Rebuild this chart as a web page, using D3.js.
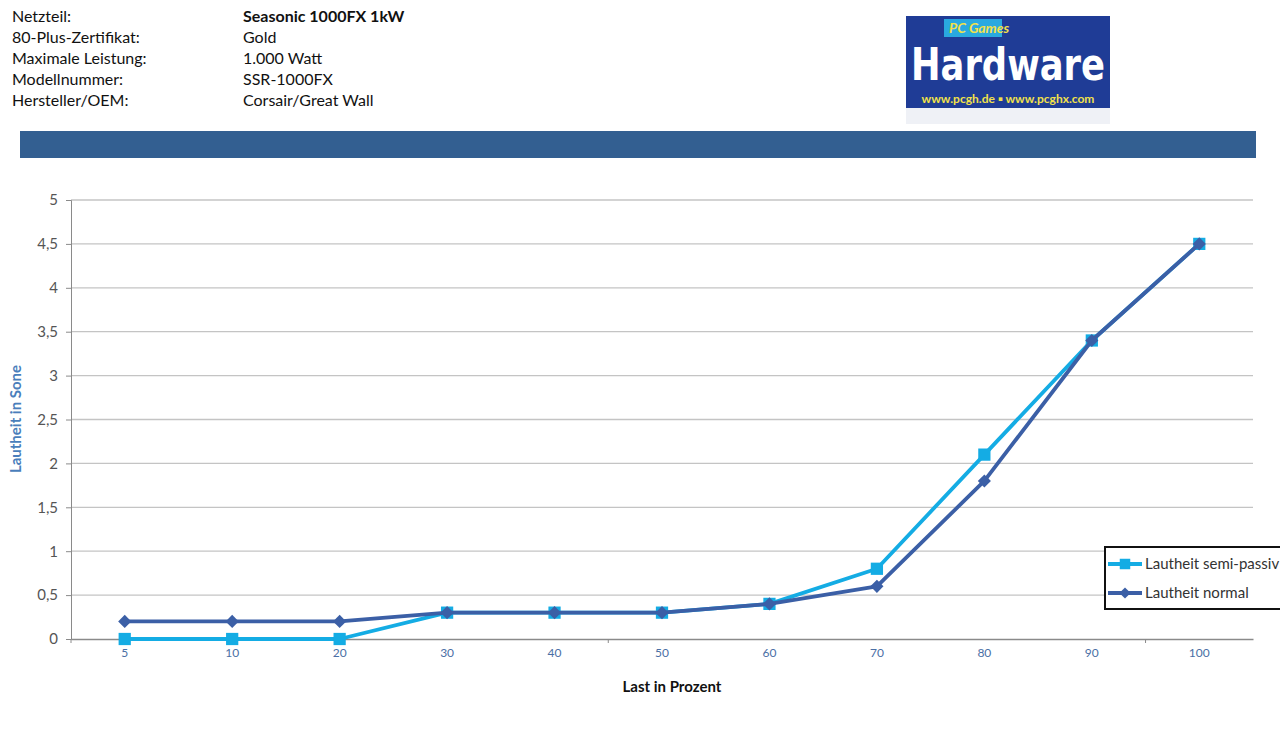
<!DOCTYPE html>
<html>
<head>
<meta charset="utf-8">
<script src="https://cdn.jsdelivr.net/npm/d3@7"></script>
<style>
  body { margin: 0; background: #fff; }
  svg text { font-family: Lato, "Open Sans", sans-serif; }
</style>
</head>
<body>
<div id="chart"></div>
<script>
// data
const categories = ["5", "10", "20", "30", "40", "50", "60", "70", "80", "90", "100"];
const semiPassiv = [0, 0, 0, 0.3, 0.3, 0.3, 0.4, 0.8, 2.1, 3.4, 4.5];
const normal = [0.2, 0.2, 0.2, 0.3, 0.3, 0.3, 0.4, 0.6, 1.8, 3.4, 4.5];
const yTicks = [0, 0.5, 1, 1.5, 2, 2.5, 3, 3.5, 4, 4.5, 5];
const infoLabels = ["Netzteil:", "80-Plus-Zertifikat:", "Maximale Leistung:", "Modellnummer:", "Hersteller/OEM:"];
const infoValues = ["Seasonic 1000FX 1kW", "Gold", "1.000 Watt", "SSR-1000FX", "Corsair/Great Wall"];

const W = 1280, H = 730;
const svg = d3.select("#chart").append("svg")
    .attr("width", W)
    .attr("height", H);

// header text block
infoLabels.forEach(function(t, i) {
    svg.append("text")
        .attr("x", 12).attr("y", 22 + i * 21)
        .attr("font-size", 16).attr("fill", "#111")
        .text(t);
    svg.append("text")
        .attr("x", 243).attr("y", 22 + i * 21)
        .attr("font-size", 16).attr("fill", "#111")
        .attr("font-weight", i === 0 ? "bold" : "normal")
        .text(infoValues[i]);
});

// logo (approximation)
const logo = svg.append("g").attr("transform", "translate(906,16)");
logo.append("rect").attr("x", 0).attr("y", 0).attr("width", 204).attr("height", 92).attr("fill", "#1f3c96");
logo.append("rect").attr("x", 0).attr("y", 92).attr("width", 204).attr("height", 16).attr("fill", "#dfe4ee").attr("opacity", 0.5);
logo.append("rect").attr("x", 38).attr("y", 3).attr("width", 58).attr("height", 18).attr("fill", "#29a9e0");
logo.append("text").attr("x", 43).attr("y", 17).attr("font-size", 14).attr("font-style", "italic")
    .attr("font-weight", "bold").attr("fill", "#f2e14a").text("PC Games");
logo.append("text").attr("x", 102).attr("y", 64).attr("text-anchor", "middle")
    .attr("font-size", 44).attr("font-weight", "900").attr("fill", "#fff")
    .attr("textLength", 194).attr("lengthAdjust", "spacingAndGlyphs")
    .style("font-family", "'DejaVu Sans Condensed', sans-serif").text("Hardware");
logo.append("text").attr("x", 102).attr("y", 87).attr("text-anchor", "middle")
    .attr("font-size", 12).attr("font-weight", "bold").attr("fill", "#f2e14a")
    .text("www.pcgh.de \u25AA www.pcghx.com");

// blue band
svg.append("rect").attr("x", 20).attr("y", 131).attr("width", 1236).attr("height", 27).attr("fill", "#335f91");

const margin = { top: 200, left: 71, right: 1253, bottom: 639 };

const x = d3.scaleBand()
    .domain(categories)
    .range([margin.left, margin.right])
    .padding(0);

const y = d3.scaleLinear()
    .domain([0, 5])
    .range([margin.bottom, margin.top]);

// gridlines
svg.append("g")
    .selectAll("line")
    .data(yTicks.slice(1))
    .enter().append("line")
    .attr("x1", margin.left).attr("x2", margin.right)
    .attr("y1", d => y(d)).attr("y2", d => y(d))
    .attr("stroke", "#c4c4c4").attr("stroke-width", 1.3);

// y axis
const yAxis = d3.axisLeft(y)
    .tickValues(yTicks)
    .tickSize(5)
    .tickPadding(8)
    .tickFormat(d => String(d).replace(".", ","));

svg.append("g")
    .attr("class", "y-axis")
    .attr("transform", "translate(" + margin.left + ",0)")
    .call(yAxis)
    .call(g => g.select(".domain").attr("stroke", "#8a8a8a"))
    .call(g => g.selectAll(".tick line").attr("stroke", "#8a8a8a"))
    .call(g => g.selectAll(".tick text").attr("font-size", 15).attr("fill", "#555")
        .style("font-family", "Lato, 'Open Sans', sans-serif"));

// x axis
const xAxis = d3.axisBottom(x).tickSize(0).tickPadding(9);
svg.append("g")
    .attr("class", "x-axis")
    .attr("transform", "translate(0," + margin.bottom + ")")
    .call(xAxis)
    .call(g => g.select(".domain").attr("stroke", "#8a8a8a").attr("stroke-width", 1.3))
    .call(g => g.selectAll(".tick text").attr("font-size", 12).attr("fill", "#4a6fa5")
        .style("font-family", "Lato, 'Open Sans', sans-serif"));

// tick marks every 5 categories
const bounds = [0, 5, 10].map(i => x(categories[i]));
svg.append("g").selectAll("line")
    .data(bounds)
    .enter().append("line")
    .attr("x1", d => d).attr("x2", d => d)
    .attr("y1", margin.bottom).attr("y2", margin.bottom + 4)
    .attr("stroke", "#8a8a8a");

// axis titles
svg.append("text")
    .attr("transform", "rotate(-90)")
    .attr("x", -419).attr("y", 21)
    .attr("text-anchor", "middle")
    .attr("font-size", 15).attr("font-weight", "bold").attr("fill", "#4a7ebb")
    .text("Lautheit in Sone");

svg.append("text")
    .attr("x", 672).attr("y", 692)
    .attr("text-anchor", "middle")
    .attr("font-size", 15).attr("font-weight", "bold").attr("fill", "#111")
    .text("Last in Prozent");

// lines
const cx = d => x(d) + x.bandwidth() / 2;
const series = [
    { name: "Lautheit semi-passiv", values: semiPassiv, color: "#14ace4", marker: "square" },
    { name: "Lautheit normal", values: normal, color: "#3b5fa6", marker: "diamond" }
];

const line = d3.line()
    .x(d => cx(d.cat))
    .y(d => y(d.v));

series.forEach(function(s) {
    const pts = categories.map((c, i) => ({ cat: c, v: s.values[i] }));
    svg.append("path")
        .datum(pts)
        .attr("d", line)
        .attr("fill", "none")
        .attr("stroke", s.color)
        .attr("stroke-width", 3.8)
        .attr("stroke-linejoin", "round");

    const sym = s.marker === "square"
        ? d3.symbol().type(d3.symbolSquare).size(150)
        : d3.symbol().type(d3.symbolDiamond2).size(110);
    svg.append("g").selectAll("path")
        .data(pts)
        .enter().append("path")
        .attr("transform", d => "translate(" + cx(d.cat) + "," + y(d.v) + ")")
        .attr("d", sym)
        .attr("fill", s.color);
});

// legend
const legend = svg.append("g").attr("transform", "translate(1105,547)");
legend.append("rect")
    .attr("x", 0).attr("y", 0).attr("width", 190).attr("height", 62)
    .attr("fill", "#fff").attr("stroke", "#111").attr("stroke-width", 2);

series.forEach(function(s, i) {
    const ly = 17 + i * 29;
    legend.append("line")
        .attr("x1", 3).attr("x2", 37).attr("y1", ly).attr("y2", ly)
        .attr("stroke", s.color).attr("stroke-width", 3.8);
    const sym = s.marker === "square"
        ? d3.symbol().type(d3.symbolSquare).size(110)
        : d3.symbol().type(d3.symbolDiamond2).size(80);
    legend.append("path")
        .attr("transform", "translate(20," + ly + ")")
        .attr("d", sym)
        .attr("fill", s.color);
    legend.append("text")
        .attr("x", 40).attr("y", ly + 5)
        .attr("font-size", 15).attr("fill", "#333")
        .text(s.name);
});
</script>
</body>
</html>
